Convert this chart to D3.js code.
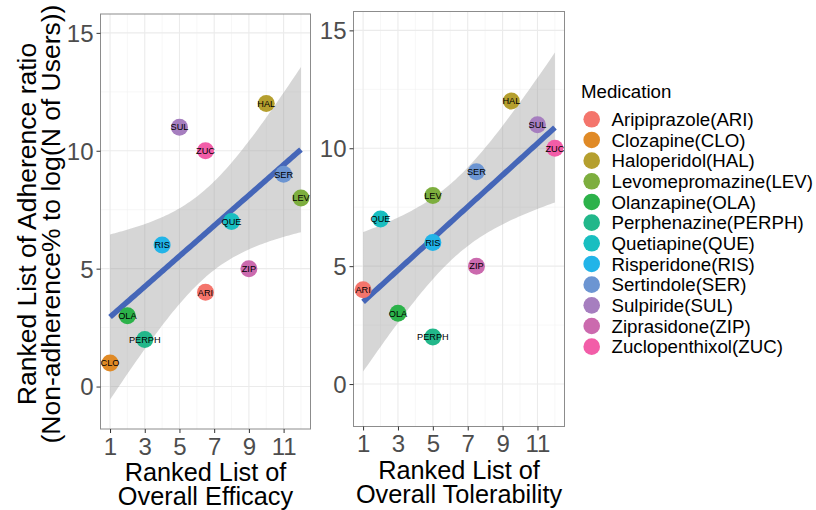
<!DOCTYPE html>
<html><head><meta charset="utf-8">
<script src="https://cdn.jsdelivr.net/npm/d3@7"></script>
<style>body{margin:0;background:#fff}svg{display:block;font-family:"Liberation Sans",Arial,Helvetica,sans-serif}</style>
</head><body><svg id="c" width="816" height="510"></svg>
<script>
// ---- data ----
const codes = ["ARI","CLO","HAL","LEV","OLA","PERPH","QUE","RIS","SER","SUL","ZIP","ZUC"];
const names = ["Aripiprazole(ARI)","Clozapine(CLO)","Haloperidol(HAL)","Levomepromazine(LEV)","Olanzapine(OLA)","Perphenazine(PERPH)","Quetiapine(QUE)","Risperidone(RIS)","Sertindole(SER)","Sulpiride(SUL)","Ziprasidone(ZIP)","Zuclopenthixol(ZUC)"];
const colors = ["#F4756C","#E08A26","#B59F2E","#7DAE3E","#2CB24A","#22B78A","#19BEC0","#22B4E8","#6C95D2","#A67EBF","#CB6AAE","#F25DA8"];
const adherence = [4,1,12,8,3,2,7,6,9,11,5,10];
const efficacy = [6.5,1,10,12,2,3,8,4,11,5,9,6.5];
const tolerability = [1,null,9.5,5,3,5,2,5,7.5,11,7.5,12];
const xTicks = [1,3,5,7,9,11];
const yTicks = [0,5,10,15];
const yDomain = [-1.8, 15.8];
const xDomain = [0.45, 12.55];
const tCrit = {9:2.262157, 10:2.228139};

const svg = d3.select("#c");
const font = '"Liberation Sans",Arial,Helvetica,sans-serif';

function lmFit(pts){
  const n = pts.length;
  const mx = d3.mean(pts,d=>d.x), my = d3.mean(pts,d=>d.y);
  let sxx=0,sxy=0;
  pts.forEach(d=>{sxx+=(d.x-mx)**2; sxy+=(d.x-mx)*(d.y-my);});
  const b = sxy/sxx, a = my - b*mx;
  let sse=0; pts.forEach(d=>{sse+=(d.y-a-b*d.x)**2;});
  const s = Math.sqrt(sse/(n-2)), t = tCrit[n-2];
  const [lo,hi] = d3.extent(pts,d=>d.x);
  return d3.range(80).map(i=>{
    const x = lo + (hi-lo)*i/79, f = a+b*x;
    const se = s*Math.sqrt(1/n + (x-mx)**2/sxx);
    return {x, f, lo:f-t*se, hi:f+t*se};
  });
}

function panel(cfg){
  const {x0,x1,y0,y1,xs,title} = cfg;
  const x = d3.scaleLinear().domain(xDomain).range([x0,x1]);
  const y = d3.scaleLinear().domain(yDomain).range([y1,y0]);
  const g = svg.append("g");
  // grid
  const minorX = d3.range(2,13,2), minorY = [2.5,7.5,12.5];
  g.selectAll(".mx").data(minorX).join("line").attr("x1",d=>x(d)).attr("x2",d=>x(d)).attr("y1",y0).attr("y2",y1).attr("stroke","#F2F2F2").attr("stroke-width",0.6);
  g.selectAll(".my").data(minorY).join("line").attr("y1",d=>y(d)).attr("y2",d=>y(d)).attr("x1",x0).attr("x2",x1).attr("stroke","#F2F2F2").attr("stroke-width",0.6);
  g.selectAll(".gx").data(xTicks).join("line").attr("x1",d=>x(d)).attr("x2",d=>x(d)).attr("y1",y0).attr("y2",y1).attr("stroke","#EBEBEB").attr("stroke-width",1.1);
  g.selectAll(".gy").data(yTicks).join("line").attr("y1",d=>y(d)).attr("y2",d=>y(d)).attr("x1",x0).attr("x2",x1).attr("stroke","#EBEBEB").attr("stroke-width",1.1);

  const pts = codes.map((c,i)=>({code:c,x:xs[i],y:adherence[i],col:colors[i]})).filter(d=>d.x!=null);
  const fit = lmFit(pts);
  g.append("path").datum(fit).attr("d",d3.area().x(d=>x(d.x)).y0(d=>y(d.lo)).y1(d=>y(d.hi))).attr("fill","#999999").attr("fill-opacity",0.4);
  g.append("path").datum(fit).attr("d",d3.line().x(d=>x(d.x)).y(d=>y(d.f))).attr("fill","none").attr("stroke","#4566B8").attr("stroke-width",5.5);

  g.selectAll(".pt").data(pts).join("circle").attr("cx",d=>x(d.x)).attr("cy",d=>y(d.y)).attr("r",8.5).attr("fill",d=>d.col);
  g.selectAll(".lb").data(pts).join("text").attr("x",d=>x(d.x)).attr("y",d=>y(d.y)+3.3).attr("text-anchor","middle")
    .attr("font-size",9.2).attr("fill","#000").text(d=>d.code);

  g.append("rect").attr("x",x0).attr("y",y0).attr("width",x1-x0).attr("height",y1-y0).attr("fill","none").attr("stroke","#8C8C8C").attr("stroke-width",1);

  // axes
  const ax = g.append("g").attr("transform",`translate(0,${y1})`).call(d3.axisBottom(x).tickValues(xTicks).tickSize(4).tickPadding(3));
  const ay = g.append("g").attr("transform",`translate(${x0},0)`).call(d3.axisLeft(y).tickValues(yTicks).tickSize(4).tickPadding(3));
  [ax,ay].forEach(a=>{a.select(".domain").remove();a.selectAll(".tick line").attr("stroke","#333").attr("stroke-width",1);
    a.selectAll("text").attr("font-size",24).attr("font-family",font).attr("fill","#4D4D4D");});
  ay.selectAll("text").attr("dy","0.35em");
  ax.selectAll("text").attr("dy","0.78em");

  const cx = (x0+x1)/2;
  const tt = g.append("text").attr("text-anchor","middle").attr("font-size",25.3).attr("fill","#000");
  tt.append("tspan").attr("x",cx).attr("y",y1+52).text(title[0]);
  tt.append("tspan").attr("x",cx).attr("y",y1+76).text(title[1]);
}

panel({x0:100.5,x1:310.5,y0:14,y1:429,xs:efficacy,title:["Ranked List of","Overall Efficacy"]});
panel({x0:353.5,x1:564.5,y0:11.5,y1:426.5,xs:tolerability,title:["Ranked List of","Overall Tolerability"]});

// y title (two lines)
const yc = 224;
const yt = svg.append("text").attr("transform",`translate(0,${yc}) rotate(-90)`).attr("text-anchor","middle").attr("font-size",26.5).attr("fill","#000");
yt.append("tspan").attr("x",0).attr("y",36).text("Ranked List of Adherence ratio");
yt.append("tspan").attr("x",0).attr("y",60).text("(Non-adherence% to log(N of Users))");

// legend
const lg = svg.append("g");
lg.append("text").attr("x",581).attr("y",97.5).attr("font-size",18.7).attr("fill","#000").text("Medication");
const rows = lg.selectAll(".row").data(names).join("g").attr("transform",(d,i)=>`translate(0,${119.3+i*20.67})`);
rows.append("circle").attr("cx",591.7).attr("cy",0).attr("r",8.3).attr("fill",(d,i)=>colors[i]);
rows.append("text").attr("x",611.5).attr("y",6.7).attr("font-size",18.7).attr("fill","#000").text(d=>d);
</script></body></html>
